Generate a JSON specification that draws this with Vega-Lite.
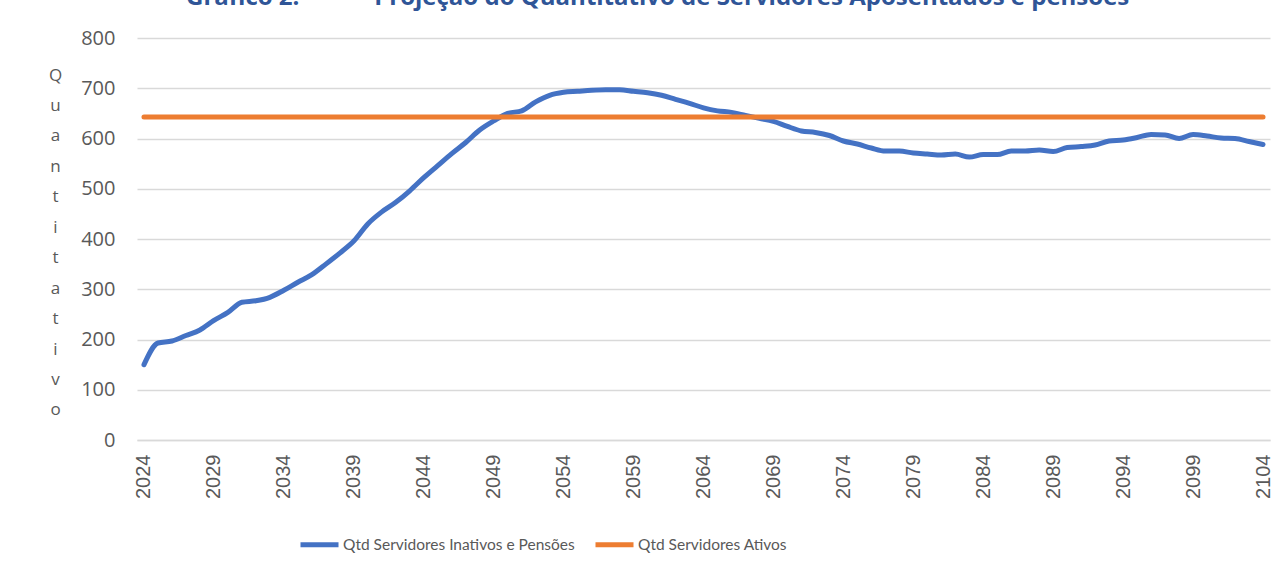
{
  "$schema": "https://vega.github.io/schema/vega-lite/v6.json",
  "autosize": {"type": "none"},
  "width": 1133,
  "height": 402,
  "padding": {"left": 137, "top": 38, "right": 16, "bottom": 134},
  "background": "white",
  "title": {
    "text": "Gráfico 2:\u00a0\u00a0\u00a0\u00a0\u00a0\u00a0\u00a0\u00a0\u00a0\u00a0\u00a0\u00a0Projeção do Quantitativo de Servidores Aposentados e pensões",
    "anchor": "start",
    "frame": "group",
    "dx": 49,
    "dy": -14,
    "font": "Open Sans",
    "fontWeight": "bold",
    "fontSize": 24,
    "color": "#2F5597"
  },
  "data": {
    "values": [
      {"ano": 2024, "inat": 150, "at": 643},
      {"ano": 2025, "inat": 193, "at": 643},
      {"ano": 2026, "inat": 197, "at": 643},
      {"ano": 2027, "inat": 208, "at": 643},
      {"ano": 2028, "inat": 219, "at": 643},
      {"ano": 2029, "inat": 238, "at": 643},
      {"ano": 2030, "inat": 254, "at": 643},
      {"ano": 2031, "inat": 274, "at": 643},
      {"ano": 2032, "inat": 277, "at": 643},
      {"ano": 2033, "inat": 284, "at": 643},
      {"ano": 2034, "inat": 298, "at": 643},
      {"ano": 2035, "inat": 314, "at": 643},
      {"ano": 2036, "inat": 329, "at": 643},
      {"ano": 2037, "inat": 350, "at": 643},
      {"ano": 2038, "inat": 372, "at": 643},
      {"ano": 2039, "inat": 396, "at": 643},
      {"ano": 2040, "inat": 430, "at": 643},
      {"ano": 2041, "inat": 454, "at": 643},
      {"ano": 2042, "inat": 473, "at": 643},
      {"ano": 2043, "inat": 496, "at": 643},
      {"ano": 2044, "inat": 522, "at": 643},
      {"ano": 2045, "inat": 546, "at": 643},
      {"ano": 2046, "inat": 570, "at": 643},
      {"ano": 2047, "inat": 592, "at": 643},
      {"ano": 2048, "inat": 617, "at": 643},
      {"ano": 2049, "inat": 635, "at": 643},
      {"ano": 2050, "inat": 650, "at": 643},
      {"ano": 2051, "inat": 655, "at": 643},
      {"ano": 2052, "inat": 673, "at": 643},
      {"ano": 2053, "inat": 686, "at": 643},
      {"ano": 2054, "inat": 692, "at": 643},
      {"ano": 2055, "inat": 694, "at": 643},
      {"ano": 2056, "inat": 696, "at": 643},
      {"ano": 2057, "inat": 697, "at": 643},
      {"ano": 2058, "inat": 697, "at": 643},
      {"ano": 2059, "inat": 694, "at": 643},
      {"ano": 2060, "inat": 691, "at": 643},
      {"ano": 2061, "inat": 686, "at": 643},
      {"ano": 2062, "inat": 678, "at": 643},
      {"ano": 2063, "inat": 670, "at": 643},
      {"ano": 2064, "inat": 661, "at": 643},
      {"ano": 2065, "inat": 655, "at": 643},
      {"ano": 2066, "inat": 652, "at": 643},
      {"ano": 2067, "inat": 646, "at": 643},
      {"ano": 2068, "inat": 640, "at": 643},
      {"ano": 2069, "inat": 634, "at": 643},
      {"ano": 2070, "inat": 624, "at": 643},
      {"ano": 2071, "inat": 615, "at": 643},
      {"ano": 2072, "inat": 612, "at": 643},
      {"ano": 2073, "inat": 606, "at": 643},
      {"ano": 2074, "inat": 595, "at": 643},
      {"ano": 2075, "inat": 589, "at": 643},
      {"ano": 2076, "inat": 581, "at": 643},
      {"ano": 2077, "inat": 575, "at": 643},
      {"ano": 2078, "inat": 575, "at": 643},
      {"ano": 2079, "inat": 571, "at": 643},
      {"ano": 2080, "inat": 569, "at": 643},
      {"ano": 2081, "inat": 567, "at": 643},
      {"ano": 2082, "inat": 569, "at": 643},
      {"ano": 2083, "inat": 563, "at": 643},
      {"ano": 2084, "inat": 568, "at": 643},
      {"ano": 2085, "inat": 568, "at": 643},
      {"ano": 2086, "inat": 575, "at": 643},
      {"ano": 2087, "inat": 575, "at": 643},
      {"ano": 2088, "inat": 577, "at": 643},
      {"ano": 2089, "inat": 574, "at": 643},
      {"ano": 2090, "inat": 582, "at": 643},
      {"ano": 2091, "inat": 584, "at": 643},
      {"ano": 2092, "inat": 587, "at": 643},
      {"ano": 2093, "inat": 595, "at": 643},
      {"ano": 2094, "inat": 597, "at": 643},
      {"ano": 2095, "inat": 602, "at": 643},
      {"ano": 2096, "inat": 608, "at": 643},
      {"ano": 2097, "inat": 607, "at": 643},
      {"ano": 2098, "inat": 600, "at": 643},
      {"ano": 2099, "inat": 608, "at": 643},
      {"ano": 2100, "inat": 605, "at": 643},
      {"ano": 2101, "inat": 601, "at": 643},
      {"ano": 2102, "inat": 600, "at": 643},
      {"ano": 2103, "inat": 594, "at": 643},
      {"ano": 2104, "inat": 588, "at": 643}
    ]
  },
  "transform": [
    {"fold": ["inat", "at"], "as": ["serie", "valor"]},
    {"lookup": "serie", "from": {"data": {"values": [
      {"serie": "inat", "nome": "Qtd Servidores Inativos e Pensões"},
      {"serie": "at", "nome": "Qtd Servidores Ativos"}
    ]}, "key": "serie", "fields": ["nome"]}}
  ],
  "mark": {"type": "line", "strokeWidth": 5, "strokeCap": "round", "strokeJoin": "round", "interpolate": "monotone"},
  "encoding": {
    "x": {
      "field": "ano",
      "type": "quantitative",
      "scale": {"domain": [2023.5, 2104.5], "nice": false, "zero": false},
      "axis": {
        "title": null,
        "values": [2024, 2029, 2034, 2039, 2044, 2049, 2054, 2059, 2064, 2069, 2074, 2079, 2084, 2089, 2094, 2099, 2104],
        "format": "d",
        "labelAngle": -90,
        "labelAlign": "right",
        "labelBaseline": "middle",
        "labelPadding": 14,
        "labelFont": "Liberation Sans",
        "labelFontSize": 20,
        "labelColor": "#595959",
        "ticks": false,
        "grid": false,
        "domain": true,
        "domainColor": "#d9d9d9",
        "domainWidth": 1.5,
        "labelFlush": false,
        "labelOverlap": false
      }
    },
    "y": {
      "field": "valor",
      "type": "quantitative",
      "scale": {"domain": [0, 800], "nice": false},
      "axis": {
        "values": [0, 100, 200, 300, 400, 500, 600, 700, 800],
        "title": ["Q", "u", "a", "n", "t", "i", "t", "a", "t", "i", "v", "o"],
        "titleAngle": 0,
        "titleAlign": "center",
        "titleBaseline": "middle",
        "titleX": -82,
        "titleY": 37,
        "titleLineHeight": 30.45,
        "titleFont": "Open Sans",
        "titleFontSize": 17,
        "titleFontWeight": "normal",
        "titleColor": "#595959",
        "labelFont": "Open Sans",
        "labelFontSize": 20,
        "labelColor": "#595959",
        "labelPadding": 22,
        "ticks": false,
        "domain": false,
        "grid": true,
        "gridColor": "#d9d9d9",
        "gridWidth": 1.5
      }
    },
    "color": {
      "field": "nome",
      "type": "nominal",
      "sort": ["Qtd Servidores Inativos e Pensões", "Qtd Servidores Ativos"],
      "scale": {"domain": ["Qtd Servidores Inativos e Pensões", "Qtd Servidores Ativos"], "range": ["#4472C4", "#ED7D31"]},
      "legend": {
        "title": null,
        "orient": "none",
        "legendX": 161,
        "legendY": 485,
        "direction": "horizontal",
        "symbolType": "stroke",
        "symbolSize": 1444,
        "symbolStrokeWidth": 5,
        "labelFont": "Lato",
        "labelFontSize": 15.5,
        "labelColor": "#595959",
        "labelOffset": 2,
        "columnPadding": 10,
        "labelLimit": 400
      }
    },
    "order": {"field": "ano", "type": "quantitative"}
  },
  "config": {"view": {"stroke": null}}
}
